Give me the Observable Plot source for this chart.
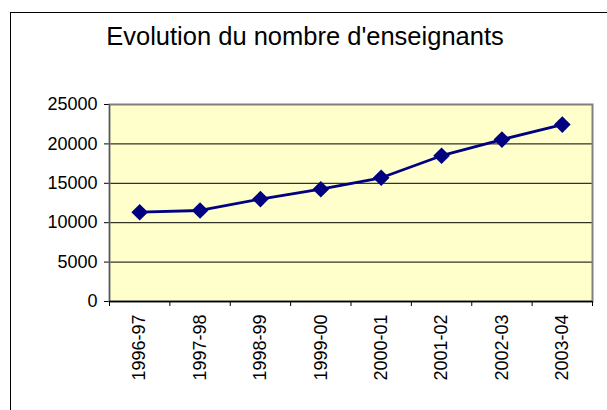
<!DOCTYPE html>
<html>
<head>
<meta charset="utf-8">
<script src="https://cdn.jsdelivr.net/npm/d3@7"></script>
<script src="https://cdn.jsdelivr.net/npm/@observablehq/plot@0.6"></script>
<style>
  html, body { margin: 0; padding: 0; background: #fff; width: 607px; height: 410px; overflow: hidden; }
  #wrap { position: relative; width: 607px; height: 410px; }
  #border { position: absolute; left: 10px; top: 12px; width: 700px; height: 500px; border: 1px solid #000; box-sizing: border-box; }
  #chart { position: absolute; left: 0; top: 0; }
</style>
</head>
<body>
<div id="wrap"><div id="border"></div><div id="chart"></div></div>
<script>
const title = "Evolution du nombre d'enseignants";
const categories = ["1996-97", "1997-98", "1998-99", "1999-00", "2000-01", "2001-02", "2002-03", "2003-04"];
const values = [11330, 11550, 13000, 14250, 15700, 18500, 20550, 22450];
const yTicks = [0, 5000, 10000, 15000, 20000, 25000];

const data = categories.map((c, i) => ({pos: i + 0.5, cat: c, value: values[i]}));
const boundaries = d3.range(categories.length + 1);
const navy = "#000080";

const chart = Plot.plot({
  width: 607,
  height: 410,
  marginLeft: 109,
  marginRight: 15,
  marginTop: 104,
  marginBottom: 109,
  style: {fontFamily: "'Liberation Sans', Arial, sans-serif", fontSize: "18px", background: "transparent", overflow: "visible", color: "#000"},
  x: {domain: [0, categories.length], ticks: data.map(d => d.pos), tickFormat: t => categories[Math.floor(t)], tickRotate: -90, tickSize: 0, tickPadding: 13, label: null},
  y: {domain: [0, 25000], ticks: yTicks, tickSize: 5, tickPadding: 7, tickFormat: d => String(d), label: null},
  marks: [
    Plot.frame({fill: "#FFFFCC"}),
    Plot.ruleY(yTicks.slice(1, -1), {stroke: "#000", strokeWidth: 1}),
    Plot.frame({stroke: "#808080", strokeWidth: 2}),
    Plot.ruleX([0], {stroke: "#555", strokeWidth: 1}),
    Plot.ruleY([0], {stroke: "#000", strokeWidth: 1.5}),
    Plot.ruleX(boundaries, {y1: 0, y2: 0, insetBottom: -5, stroke: "#000", strokeWidth: 1}),
    Plot.line(data, {x: "pos", y: "value", stroke: navy, strokeWidth: 2.8}),
    Plot.dot(data, {x: "pos", y: "value", symbol: d3.symbolDiamond2, r: 7.5, fill: navy, stroke: "none"}),
    Plot.text([title], {frameAnchor: "top", dx: -46, dy: -78, fontSize: 25.5, fill: "#000"})
  ]
});
document.getElementById("chart").appendChild(chart);
</script>
</body>
</html>
